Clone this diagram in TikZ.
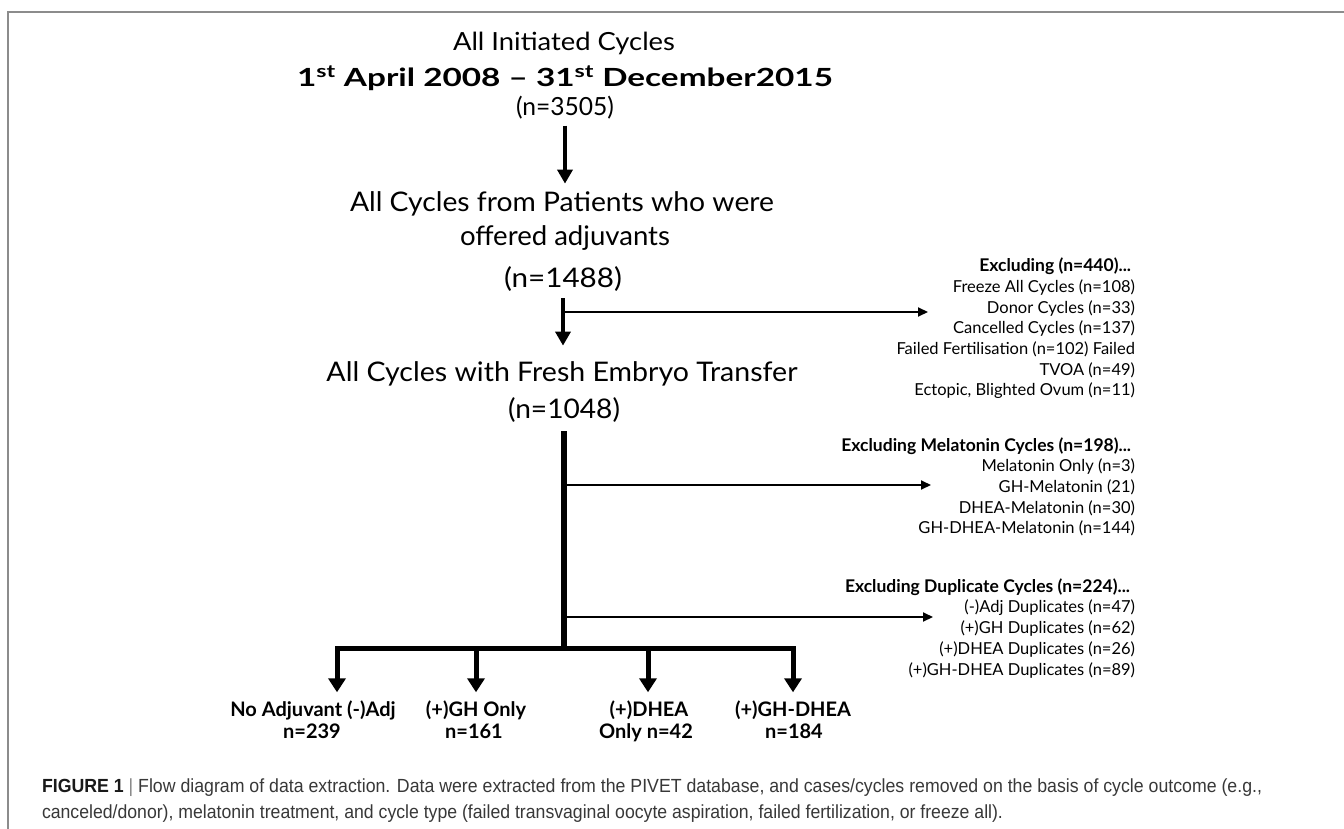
\documentclass[tikz,border=0pt]{standalone}
\usepackage{fontspec}
\usepackage{graphicx}
\setmainfont{Lato}
\newfontfamily\capfont{Liberation Sans}
\usetikzlibrary{arrows.meta}
\newcommand{\fitw}[2]{\resizebox{#1}{\height}{#2}}
\begin{document}
\begin{tikzpicture}[x=1pt,y=-1pt,
  every node/.style={inner sep=0pt, outer sep=0pt},
  mainline/.style={font=\fontsize{27}{32}\selectfont, anchor=base},
  topline/.style={font=\fontsize{25}{30}\selectfont, anchor=base},
  rtext/.style={font=\fontsize{16.5}{20}\selectfont, anchor=base east},
  rhead/.style={font=\fontsize{17.5}{20}\selectfont\bfseries, anchor=base east},
  blabel/.style={font=\fontsize{20}{24}\selectfont\bfseries, anchor=base},
  captext/.style={font=\capfont\fontsize{19}{22}\selectfont, text=black!78, anchor=base west},
  mainarrow/.style={line width=4.5pt, -{Triangle[width=15pt,length=14pt]}},
  downarrow/.style={line width=5pt, -{Triangle[width=17pt,length=14pt]}},
  sidearrow/.style={line width=2pt, -{Triangle[width=9pt,length=10pt]}},
  trunkline/.style={line width=6pt},
  barline/.style={line width=5pt, line cap=rect},
  framel/.style={draw=black!45, line width=1.3pt}
]
\useasboundingbox[fill=white] (0,0) rectangle (1344,829);
\draw[framel] (8,829) -- (8,12) -- (1344,12);

% main column
\node[topline] (t1) at (564,51) {\fitw{222pt}{All Initiated Cycles}};
\node[topline, font=\fontsize{25}{30}\selectfont\bfseries] (t2) at (565,87) {\fitw{536pt}{1\textsuperscript{st} April 2008 – 31\textsuperscript{st} December2015}};
\node[topline] (t3) at (565,116) {\fitw{98pt}{(n=3505)}};

\node[mainline] (p1) at (562,212) {\fitw{424pt}{All Cycles from Patients who were}};
\node[mainline] (p2) at (565,246) {\fitw{210pt}{offered adjuvants}};
\node[mainline] (p3) at (563,287) {\fitw{118pt}{(n=1488)}};

\node[mainline] (f1) at (562,381) {\fitw{471pt}{All Cycles with Fresh Embryo Transfer}};
\node[mainline] (f2) at (564,418) {\fitw{112pt}{(n=1048)}};

% junction coordinates
\coordinate (b1) at (564,312);
\coordinate (b2) at (565,485);
\coordinate (b3) at (565,617);
\coordinate (barc) at (565,651);
\coordinate (e1tip) at (928,312);
\coordinate (e2tip) at (931,485);
\coordinate (e3tip) at (933,617);
\coordinate (d1) at (337,648);
\coordinate (d2) at (476,648);
\coordinate (d3) at (648,648);
\coordinate (d4) at (793,648);

% exclusion blocks
\node[rhead] (e1h) at (1131,272) {Excluding (n=440)...};
\node[rtext] (e1a) at (1135,292) {Freeze All Cycles (n=108)};
\node[rtext] (e1b) at (1135,313) {Donor Cycles (n=33)};
\node[rtext] (e1c) at (1135,333) {Cancelled Cycles (n=137)};
\node[rtext] (e1d) at (1135,354) {Failed Fertilisation (n=102) Failed};
\node[rtext] (e1e) at (1135,375) {TVOA (n=49)};
\node[rtext] (e1f) at (1135,395) {Ectopic, Blighted Ovum (n=11)};

\node[rhead] (e2h) at (1131,451) {Excluding Melatonin Cycles (n=198)...};
\node[rtext] (e2a) at (1135,471) {Melatonin Only (n=3)};
\node[rtext] (e2b) at (1135,492) {GH-Melatonin (21)};
\node[rtext] (e2c) at (1135,513) {DHEA-Melatonin (n=30)};
\node[rtext] (e2d) at (1135,533) {GH-DHEA-Melatonin (n=144)};

\node[rhead] (e3h) at (1130,592) {Excluding Duplicate Cycles (n=224)...};
\node[rtext] (e3a) at (1135,612) {(-)Adj Duplicates (n=47)};
\node[rtext] (e3b) at (1135,633) {(+)GH Duplicates (n=62)};
\node[rtext] (e3c) at (1135,654) {(+)DHEA Duplicates (n=26)};
\node[rtext] (e3d) at (1135,675) {(+)GH-DHEA Duplicates (n=89)};

% bottom labels
\node[blabel] (l1a) at (313,716) {No Adjuvant (-)Adj};
\node[blabel] (l1b) at (312,738) {n=239};
\node[blabel] (l2a) at (476,716) {(+)GH Only};
\node[blabel] (l2b) at (474,738) {n=161};
\node[blabel] (l3a) at (649,716) {(+)DHEA};
\node[blabel] (l3b) at (646,738) {Only n=42};
\node[blabel] (l4a) at (793,716) {(+)GH-DHEA};
\node[blabel] (l4b) at (794,738) {n=184};

% connectors
\draw[mainarrow, shorten <=6pt, shorten >=8.5pt] (t3.south) -- (t3.south |- p1.north);
\draw[mainarrow, shorten <=7.5pt, shorten >=15.5pt] (p3.south) -- (p3.south |- f1.north);
\draw[sidearrow] (b1) -- (e1tip);
\draw[trunkline, shorten <=9.5pt] (f2.south) -- (f2.south |- barc);
\draw[sidearrow] (b2) -- (e2tip);
\draw[sidearrow] (b3) -- (e3tip);
\draw[barline] (d1) -- (d4);
\draw[downarrow, shorten >=8pt] (d1) -- (d1 |- l1a.north);
\draw[downarrow, shorten >=8pt] (d2) -- (d2 |- l2a.north);
\draw[downarrow, shorten >=8pt] (d3) -- (d3 |- l3a.north);
\draw[downarrow, shorten >=8pt] (d4) -- (d4 |- l4a.north);

% caption
\node[captext] (cap1) at (42,792) {\fitw{1220pt}{{\color{black!90}\textbf{FIGURE 1}} {\color{black!50}|} Flow diagram of data extraction. Data were extracted from the PIVET database, and cases/cycles removed on the basis of cycle outcome (e.g.,}};
\node[captext] (cap2) at (42,818) {\fitw{961pt}{canceled/donor), melatonin treatment, and cycle type (failed transvaginal oocyte aspiration, failed fertilization, or freeze all).}};
\end{tikzpicture}
\end{document}
